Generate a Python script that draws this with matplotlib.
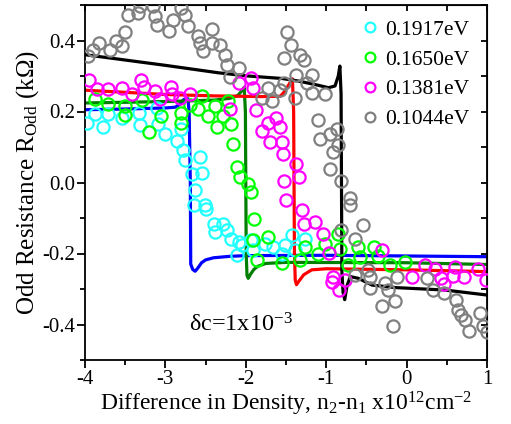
import matplotlib
matplotlib.use("Agg")
import matplotlib.pyplot as plt
import numpy as np

plt.rcParams['font.family'] = ['Liberation Serif', 'DejaVu Serif']
plt.rcParams['mathtext.fontset'] = 'custom'
plt.rcParams['mathtext.rm'] = 'Liberation Serif'
plt.rcParams['mathtext.it'] = 'Liberation Serif:italic'

# measured points (x: 1e12 cm^-2, y: kOhm)
x_1917 = [-3.98, -3.88, -3.77, -3.71, -3.54, -3.33, -3.32, -3.11, -3.09, -3.00,
          -2.86, -2.80, -2.78, -2.76, -2.57, -2.67, -2.55, -2.63, -2.65, -2.51,
          -2.49, -2.40, -2.38, -2.28, -2.24, -2.18, -2.05, -2.11, -2.09, -1.93,
          -1.91, -1.76, -1.66, -1.55, -1.51, -1.43, -1.39, -1.26]
y_1917 = [0.169, 0.192, 0.157, 0.192, 0.181, 0.197, 0.162, 0.209, 0.164, 0.136,
          0.118, 0.150, 0.092, 0.062, 0.071, 0.024, 0.026, -0.020, -0.062, -0.062,
          -0.076, -0.116, -0.139, -0.116, -0.134, -0.158, -0.176, -0.204, -0.167, -0.162,
          -0.190, -0.172, -0.181, -0.200, -0.176, -0.148, -0.190, -0.158]

x_1650 = [-3.88, -3.71, -3.50, -3.50, -3.29, -3.21, -3.05, -2.80, -2.80, -2.69,
          -2.55, -2.59, -2.47, -2.38, -2.36, -2.28, -2.22, -2.18, -2.16, -2.11,
          -2.07, -1.97, -1.93, -1.90, -1.91, -1.86, -1.72, -1.55, -1.33, -1.26,
          -1.10, -1.01, -0.85, -0.83, -0.73, -0.60, -0.58, -0.41, -0.35, -0.21,
          -0.02]
y_1650 = [0.234, 0.220, 0.216, 0.190, 0.232, 0.143, 0.188, 0.197, 0.169, 0.218,
          0.244, 0.206, 0.188, 0.216, 0.157, 0.188, 0.230, 0.164, 0.108, 0.043,
          0.015, -0.004, -0.027, -0.102, -0.162, -0.218, -0.153, -0.228, -0.218, -0.181,
          -0.200, -0.174, -0.144, -0.186, -0.232, -0.181, -0.209, -0.181, -0.207, -0.232,
          -0.223]

x_1381 = [-3.95, -3.85, -3.71, -3.54, -3.42, -3.30, -3.26, -3.13, -3.07, -2.93,
          -2.92, -2.82, -2.69, -2.20, -2.09, -1.93, -1.91, -1.87, -1.80, -1.72,
          -1.62, -1.58, -1.70, -1.55, -1.54, -1.38, -1.34, -1.53, -1.50, -1.30,
          -1.27, -1.14, -1.04, -0.97, -0.91, -0.93, -0.84, -0.77, -0.30, 0.07,
          0.23, 0.35, 0.43, 0.47, 0.58, 0.60, 0.71, 0.89, 0.99]
y_1381 = [0.290, 0.262, 0.262, 0.267, 0.248, 0.289, 0.269, 0.258, 0.234, 0.269,
          0.248, 0.239, 0.248, 0.206, 0.281, 0.293, 0.265, 0.204, 0.146, 0.169,
          0.183, 0.157, 0.113, 0.113, 0.080, 0.052, 0.015, 0.004, -0.048, -0.078,
          -0.116, -0.111, -0.144, -0.198, -0.265, -0.279, -0.303, -0.275, -0.190, -0.265,
          -0.232, -0.244, -0.268, -0.286, -0.263, -0.237, -0.265, -0.245, -0.275]

x_1044 = [-3.96, -3.90, -3.83, -3.69, -3.61, -3.54, -3.50, -3.47, -3.34, -3.32,
          -3.15, -3.13, -3.11, -2.96, -2.90, -2.80, -2.76, -2.72, -2.59, -2.57,
          -2.53, -2.42, -2.42, -2.32, -2.26, -2.24, -2.09, -2.20, -1.80, -1.72,
          -1.68, -1.57, -1.53, -1.49, -1.44, -1.52, -1.33, -1.27, -1.37, -1.39,
          -1.18, -1.24, -1.18, -1.01, -1.10, -1.08, -0.95, -0.86, -0.85, -0.91,
          -0.95, -0.82, -0.70, -0.71, -0.54, -0.81, -0.64, -0.64, -0.48, -0.46,
          -0.46, -0.27, -0.23, -0.12, -0.31, -0.15, -0.17, 0.25, 0.33, 0.47,
          0.62, 0.64, 0.68, 0.73, 0.77, 0.91, 0.95, 1.00]
y_1044 = [0.356, 0.374, 0.393, 0.374, 0.398, 0.384, 0.424, 0.473, 0.477, 0.496,
          0.496, 0.468, 0.443, 0.426, 0.459, 0.491, 0.471, 0.440, 0.412, 0.393,
          0.370, 0.431, 0.393, 0.388, 0.360, 0.332, 0.323, 0.297, 0.239, 0.265,
          0.230, 0.260, 0.281, 0.424, 0.388, 0.351, 0.360, 0.344, 0.304, 0.239,
          0.304, 0.281, 0.253, 0.248, 0.176, 0.122, 0.136, 0.150, 0.106, 0.085,
          0.038, 0.003, -0.043, -0.064, -0.120, -0.134, -0.158, -0.260, -0.246, -0.265,
          -0.298, -0.284, -0.303, -0.265, -0.347, -0.335, -0.403, -0.270, -0.303, -0.312,
          -0.332, -0.359, -0.373, -0.387, -0.419, -0.368, -0.405, -0.420]

# model curves
xb = [-4.0, -3.5, -3.0, -2.88, -2.82, -2.78, -2.74, -2.72, -2.705, -2.69, -2.685,
      -2.66, -2.63, -2.60, -2.55, -2.50, -2.40, -2.20, -2.00, -1.00, 0.0, 1.0]
yb = [0.205, 0.207, 0.210, 0.212, 0.220, 0.232, 0.238, 0.236, 0.20, 0.0, -0.23,
      -0.245, -0.250, -0.242, -0.226, -0.218, -0.212, -0.208, -0.206, -0.205, -0.207, -0.209]

xg = [-4.0, -3.0, -2.4, -2.2, -2.1, -2.05, -2.02, -2.005, -1.995, -1.985, -1.97,
      -1.94, -1.90, -1.85, -1.75, -1.50, 0.0, 1.0]
yg = [0.224, 0.228, 0.232, 0.237, 0.245, 0.258, 0.268, 0.20, -0.20, -0.262, -0.270,
      -0.258, -0.245, -0.236, -0.228, -0.225, -0.226, -0.231]

xr = [-4.0, -3.5, -3.0, -2.4, -1.8, -1.57, -1.53, -1.48, -1.45, -1.42, -1.405,
      -1.395, -1.385, -1.37, -1.34, -1.28, -1.18, -1.0, 0.0, 1.0]
yr = [0.260, 0.254, 0.248, 0.244, 0.242, 0.243, 0.253, 0.270, 0.281, 0.292, 0.20,
      -0.20, -0.275, -0.288, -0.278, -0.260, -0.246, -0.243, -0.246, -0.251]

xk = [-4.0, -3.5, -3.0, -2.34, -1.97, -1.55, -1.35, -1.14, -0.97, -0.89, -0.85,
      -0.83, -0.815, -0.805, -0.79, -0.77, -0.74, -0.70, -0.60, -0.43, -0.14, 0.48, 1.0]
yk = [0.360, 0.345, 0.330, 0.309, 0.300, 0.293, 0.286, 0.276, 0.267, 0.272, 0.300,
      0.328, 0.25, -0.25, -0.31, -0.330, -0.290, -0.265, -0.270, -0.289, -0.296, -0.303, -0.317]

fig = plt.figure(figsize=(5.11, 4.24), dpi=100)
ax = fig.add_axes([85 / 511, 1 - 360 / 424, 402 / 511, 355 / 424])

lw = 2.3
ax.plot(xb, yb, color='#0000ff', lw=lw, zorder=2)
ax.plot(xg, yg, color='#007f00', lw=lw, zorder=2)
ax.plot(xr, yr, color='#ff0000', lw=lw, zorder=2)
ax.plot(xk, yk, color='black', lw=lw, zorder=2)

mk = dict(ls='none', marker='o', mfc='none', ms=8.8, mew=1.6, zorder=3)
ax.plot(x_1917, y_1917, mec='#22ffff', label='0.1917eV', **mk)
ax.plot(x_1650, y_1650, mec='#00ff00', label='0.1650eV', **mk)
ax.plot(x_1381, y_1381, mec='#ff00ff', label='0.1381eV', **mk)
ax.plot(x_1044, y_1044, mec='#808080', label='0.1044eV', **mk)

ax.set_xlim(-4, 1)
ax.set_ylim(-0.5, 0.5)
ax.set_xticks(np.arange(-4, 1.01, 1))
ax.set_xticks(np.arange(-4, 1.01, 0.5), minor=True)
ax.set_yticks([-0.4, -0.2, 0.0, 0.2, 0.4])
ax.set_yticks(np.arange(-0.5, 0.51, 0.1), minor=True)
ax.set_xticklabels(['-4', '-3', '-2', '-1', '0', '1'])
ax.set_yticklabels(['-0.4', '-0.2', '0.0', '0.2', '0.4'])
ax.tick_params(which='both', direction='out', width=1.3, labelsize=15, pad=1.5)
ax.tick_params(which='major', length=5.5)
ax.tick_params(which='minor', length=3.5)
for s in ax.spines.values():
    s.set_linewidth(1.3)

top = ax.secondary_xaxis('top')
top.set_xticks(np.arange(-4, 1.01, 0.5))
top.tick_params(direction='in', length=4.5, width=1.3, labeltop=False)
right = ax.secondary_yaxis('right')
right.set_yticks(np.arange(-0.5, 0.51, 0.1))
right.tick_params(direction='in', length=4.5, width=1.3, labelright=False)

ax.set_xlabel('Difference in Density, n$_2$-n$_1$ x10$^{12}$cm$^{-2}$', fontsize=17, labelpad=1)
ax.set_ylabel('Odd Resistance R$_{\\mathrm{Odd}}$ (k\u03a9)', fontsize=18, labelpad=1)

ax.text(-2.71, -0.40, '\u03b4c=1x10$^{-3}$', fontsize=17.5, va='center')

ax.legend(loc='upper right', frameon=False, fontsize=15.5, markerscale=0.8,
          handletextpad=0.2, handlelength=1.0, labelspacing=0.45,
          bbox_to_anchor=(0.955, 0.958), borderaxespad=0, borderpad=0)

fig.savefig('out.png', dpi=100)
